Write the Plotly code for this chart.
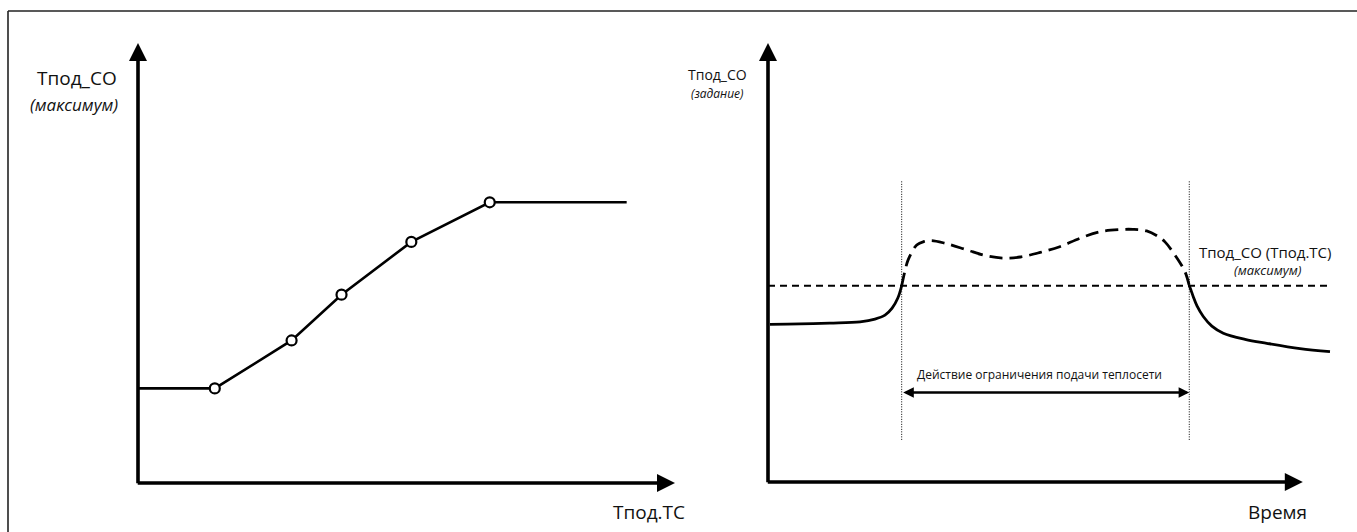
import plotly.graph_objects as go

W, H = 1357, 532

# ---------------- data ----------------
# Left chart: T_под_СО (максимум) as a function of T_под.ТС (arbitrary units 0..100)
left_x = [0.0, 14.3, 28.6, 37.9, 50.9, 65.5, 91.0]
left_y = [21.5, 21.5, 32.4, 42.8, 54.8, 63.8, 63.8]
left_break_x = left_x[1:-1]
left_break_y = left_y[1:-1]

# Right chart: T_под_СО (задание) over time (arbitrary units 0..100)
sp_before_x = [0.35, 5.6, 10.8, 16.1, 18.7, 20.45, 21.7, 22.7, 23.37]
sp_before_y = [35.9, 36.0, 36.2, 36.5, 37.1, 38.0, 39.6, 41.9, 44.7]

sp_limited_x = [23.37, 23.95, 24.5, 26.0, 27.3, 28.6, 30.9, 34.7, 37.9, 41.1,
                44.1, 47.6, 51.0, 54.5, 58.0, 61.5, 63.8, 66.2, 68.0, 69.4,
                71.4, 72.9, 73.65]
sp_limited_y = [44.7, 48.1, 50.6, 54.0, 54.8, 55.0, 54.4, 52.9, 51.6, 51.0,
                51.25, 52.3, 53.6, 55.5, 57.0, 57.5, 57.55, 57.2, 56.1, 54.7,
                51.2, 47.9, 44.7]

sp_after_x = [73.65, 73.95, 74.35, 75.0, 76.1, 77.6, 79.6, 83.4, 87.2, 93.0, 98.25]
sp_after_y = [44.7, 43.7, 42.2, 40.1, 37.7, 35.5, 33.9, 32.5, 31.6, 30.4, 29.7]

max_level = 44.7          # T_под_СО (T_под.ТС) maximum
max_line_x = [0.0, 98.6]
limit_start, limit_end = 23.37, 73.65
limit_y = [9.6, 68.5]
span_arrow_y = 20.4

# ---------------- figure ----------------
fig = go.Figure()
ink = "#000000"
txt = "#111111"


def px(x, y):
    """pixel position -> paper coordinates"""
    return x / W, 1 - y / H


# left chart
fig.add_trace(go.Scatter(x=left_x, y=left_y, mode="lines",
                         line=dict(color=ink, width=2.6),
                         xaxis="x", yaxis="y", hoverinfo="skip"))
fig.add_trace(go.Scatter(x=left_break_x, y=left_break_y, mode="markers",
                         marker=dict(size=10, color="white",
                                     line=dict(color=ink, width=2.2)),
                         xaxis="x", yaxis="y", hoverinfo="skip"))

# right chart
fig.add_trace(go.Scatter(x=max_line_x, y=[max_level, max_level], mode="lines",
                         line=dict(color=ink, width=2, dash="7px,5px"),
                         xaxis="x2", yaxis="y2", hoverinfo="skip"))
for xv in (limit_start, limit_end):
    fig.add_trace(go.Scatter(x=[xv, xv], y=limit_y, mode="lines",
                             line=dict(color=ink, width=1, dash="1px,1.5px"),
                             xaxis="x2", yaxis="y2", hoverinfo="skip"))
fig.add_trace(go.Scatter(x=sp_before_x, y=sp_before_y, mode="lines",
                         line=dict(color=ink, width=2.8, shape="spline"),
                         xaxis="x2", yaxis="y2", hoverinfo="skip"))
fig.add_trace(go.Scatter(x=sp_limited_x, y=sp_limited_y, mode="lines",
                         line=dict(color=ink, width=2.8, shape="spline",
                                   dash="13px,7px"),
                         xaxis="x2", yaxis="y2", hoverinfo="skip"))
fig.add_trace(go.Scatter(x=sp_after_x, y=sp_after_y, mode="lines",
                         line=dict(color=ink, width=2.8, shape="spline"),
                         xaxis="x2", yaxis="y2", hoverinfo="skip"))

ax_common = dict(showgrid=False, zeroline=False, showticklabels=False,
                 showline=False, ticks="", fixedrange=True)
fig.update_layout(
    width=W, height=H, margin=dict(l=0, r=0, t=0, b=0),
    paper_bgcolor="white", plot_bgcolor="rgba(0,0,0,0)",
    showlegend=False, hovermode=False,
    font=dict(family="Open Sans", color=txt),
    xaxis=dict(domain=[138 / W, 675 / W], range=[0, 100], **ax_common),
    yaxis=dict(domain=[1 - 483 / H, 1 - 43 / H], range=[0, 100], **ax_common),
    xaxis2=dict(domain=[768 / W, 1340 / W], range=[0, 100], anchor="y2", **ax_common),
    yaxis2=dict(domain=[1 - 482 / H, 1 - 43 / H], range=[0, 100], anchor="x2", **ax_common),
)

# frame (top and left edges)
fx, fy = px(8, 11)
fig.add_shape(type="line", xref="paper", yref="paper", x0=fx, y0=fy, x1=1, y1=fy,
              line=dict(color="#222", width=1.6))
fig.add_shape(type="line", xref="paper", yref="paper", x0=fx, y0=fy, x1=fx, y1=0,
              line=dict(color="#222", width=1.6))

ann = []


def axis_arrow(xr, yr, x0, y0, x1, y1):
    ann.append(dict(xref=xr, yref=yr, axref=xr, ayref=yr, x=x1, y=y1, ax=x0, ay=y0,
                    text="", showarrow=True, arrowhead=2, arrowsize=1.0,
                    arrowwidth=3.6, arrowcolor=ink))


# left axes
axis_arrow("x", "y", 0, -0.4, 0, 100)
axis_arrow("x", "y", -0.33, 0, 100, 0)
# right axes
axis_arrow("x2", "y2", 0, -0.4, 0, 100)
axis_arrow("x2", "y2", -0.3, 0, 93.5, 0)

# span double arrow
ann.append(dict(xref="x2", yref="y2", axref="x2", ayref="y2",
                x=limit_end, y=span_arrow_y, ax=limit_start, ay=span_arrow_y,
                text="", showarrow=True, arrowside="end+start",
                arrowhead=2, startarrowhead=2, arrowsize=0.85, startarrowsize=0.85,
                arrowwidth=2.5, arrowcolor=ink))


def label(xr, yr, x, y, text, size, italic=False):
    t = f"<i>{text}</i>" if italic else text
    ann.append(dict(xref=xr, yref=yr, x=x, y=y, text=t, showarrow=False,
                    font=dict(size=size, color=txt, family="Open Sans"),
                    xanchor="center", yanchor="middle"))


def plabel(x, y, text, size, italic=False):
    xp, yp = px(x, y)
    label("paper", "paper", xp, yp, text, size, italic)


plabel(76.5, 78, "Тпод_СО", 19)
plabel(73.5, 104, "(максимум)", 17, italic=True)
plabel(649, 512, "Тпод.ТС", 19)

plabel(717, 74, "Тпод_СО", 14)
plabel(717, 94, "(задание)", 12, italic=True)
label("x2", "y2", 87.0, 52.5, "Тпод_СО (Тпод.ТС)", 15)
label("x2", "y2", 87.4, 48.3, "(максимум)", 13, italic=True)
label("x2", "y2", 47.55, 24.6, "Действие ограничения подачи теплосети", 12)
plabel(1277.5, 512, "Время", 19)

fig.update_layout(annotations=ann)
fig.write_html("out.html",
               config={"displayModeBar": False, "staticPlot": True},
               post_script="document.body.style.margin='0';"
                           "document.body.style.overflow='hidden';")
